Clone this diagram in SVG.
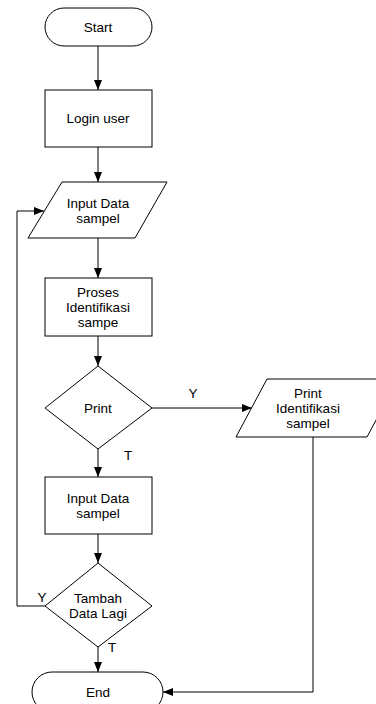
<svg xmlns="http://www.w3.org/2000/svg" width="376" height="704" viewBox="0 0 376 704">
<style>
.s{fill:#fff;stroke:#000;stroke-width:1}
.t{font-family:"Liberation Sans",Arial,sans-serif;font-size:13.5px;fill:#000;text-anchor:middle}
.c{fill:none;stroke:#000;stroke-width:1}
</style>
<defs>
<marker id="a" markerWidth="10" markerHeight="10" refX="10" refY="5" orient="auto" markerUnits="userSpaceOnUse">
<path d="M0,1 L10,5 L0,9 Z" fill="#000"/>
</marker>
</defs>
<rect width="376" height="704" fill="#fff"/>
<g id="connectors">
<path class="c" d="M98,46 L98,90" marker-end="url(#a)"/>
<path class="c" d="M98,147 L98,182" marker-end="url(#a)"/>
<path class="c" d="M98,238 L98,278" marker-end="url(#a)"/>
<path class="c" d="M98,336 L98,366" marker-end="url(#a)"/>
<path class="c" d="M152,408 L252,408" marker-end="url(#a)"/>
<path class="c" d="M98,449 L98,477" marker-end="url(#a)"/>
<path class="c" d="M98,534 L98,563" marker-end="url(#a)"/>
<path class="c" d="M98,647 L98,672" marker-end="url(#a)"/>
<path class="c" d="M45,606 L17,606 L17,211 L44,211" marker-end="url(#a)"/>
<path class="c" d="M313,437 L313,692 L163,692" marker-end="url(#a)"/>
<text class="t" x="193" y="398">Y</text>
<text class="t" x="128" y="460">T</text>
<text class="t" x="42" y="602">Y</text>
<text class="t" x="112" y="652">T</text>
</g>
<g id="start">
<rect class="s" x="45" y="8" width="107" height="38" rx="19"/>
<text class="t" x="98" y="32">Start</text>
</g>
<g id="login">
<rect class="s" x="45" y="90" width="107" height="57"/>
<text class="t" x="98" y="123">Login user</text>
</g>
<g id="input1">
<polygon class="s" points="62,182 167,182 135,238 28,238"/>
<text class="t" x="98" y="208">Input Data</text>
<text class="t" x="98" y="223">sampel</text>
</g>
<g id="proses">
<rect class="s" x="45" y="278" width="107" height="58"/>
<text class="t" x="98" y="297">Proses</text>
<text class="t" x="98" y="312">Identifikasi</text>
<text class="t" x="98" y="327">sampe</text>
</g>
<g id="print">
<polygon class="s" points="98,366 152,408 98,449 45,408"/>
<text class="t" x="98" y="413">Print</text>
</g>
<g id="printout">
<polygon class="s" points="267,379 398,379 367,437 236,437"/>
<text class="t" x="308" y="398">Print</text>
<text class="t" x="308" y="413">Identifikasi</text>
<text class="t" x="308" y="428">sampel</text>
</g>
<g id="input2">
<rect class="s" x="45" y="477" width="107" height="57"/>
<text class="t" x="98" y="503">Input Data</text>
<text class="t" x="98" y="518">sampel</text>
</g>
<g id="tambah">
<polygon class="s" points="98,563 152,606 98,647 45,606"/>
<text class="t" x="98" y="603">Tambah</text>
<text class="t" x="98" y="618">Data Lagi</text>
</g>
<g id="end">
<rect class="s" x="32" y="672" width="131" height="40" rx="20"/>
<text class="t" x="98" y="697">End</text>
</g>
</svg>
